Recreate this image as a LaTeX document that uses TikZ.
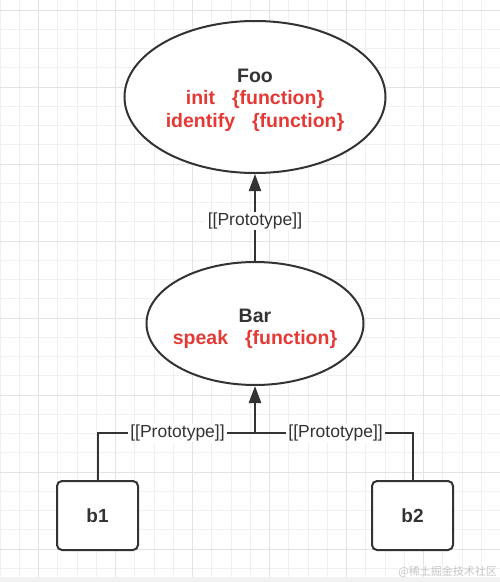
\documentclass[tikz,border=0pt]{standalone}
\usepackage{fontspec}
\setmainfont{Liberation Sans}
\newfontfamily\cjkfont{Noto Sans CJK SC}
\usetikzlibrary{shapes.geometric,arrows.meta}
\definecolor{ink}{HTML}{333333}
\definecolor{fnred}{HTML}{E53935}
\definecolor{gridminor}{HTML}{F0F0F0}
\definecolor{gridmajor}{HTML}{E3E3E3}
\begin{document}
\begin{tikzpicture}[x=1pt,y=-1pt,
  objell/.style={ellipse, draw=ink, line width=2pt, fill=white, inner sep=0pt},
  objtext/.style={align=center, inner sep=0pt, font=\fontsize{19.5}{22.5}\selectfont\bfseries, text=ink},
  instbox/.style={rectangle, rounded corners=5pt, draw=ink, line width=2pt, fill=white,
    minimum width=81pt, minimum height=69pt, font=\fontsize{19}{22}\selectfont\bfseries, text=ink},
  protolbl/.style={fill=white, inner xsep=2.5pt, inner ysep=1pt, font=\fontsize{17.5}{20}\selectfont, text=ink},
  link/.style={draw=ink, line width=2pt},
  arrowlink/.style={link, -{Triangle[length=17pt,width=12pt]}},
  gridline/.style={line width=1pt}
]
\useasboundingbox (0,0) rectangle (500,582);
\fill[white] (0,0) rectangle (500,582);
\foreach \i in {0,...,25} \draw[gridline, gridminor] ({19.25*\i},0) -- ({19.25*\i},582);
\foreach \j in {0,...,29} \draw[gridline, gridminor] (0,{10+19.25*\j}) -- (500,{10+19.25*\j});
\foreach \i in {0,...,5} \draw[gridline, gridmajor] ({38.5+77*\i},0) -- ({38.5+77*\i},582);
\foreach \j in {0,...,7} \draw[gridline, gridmajor] (0,{10+77*\j}) -- (500,{10+77*\j});
\fill[gray!10] (0,577) rectangle (500,582);

\node[objell, minimum width=261pt, minimum height=152pt] (foo) at (255,97) {};
\node[objtext] (footext) at (255,100)
  {Foo\\ \textcolor{fnred}{init\hspace{17pt}\{function\}}\\ \textcolor{fnred}{identify\hspace{17pt}\{function\}}};
\node[objell, minimum width=217pt, minimum height=123pt] (bar) at (255,323.5) {};
\node[objtext] (bartext) at (255,329)
  {Bar\\ \textcolor{fnred}{speak\hspace{17pt}\{function\}}};
\node[instbox] (b1) at (97.5,515.5) {b1};
\node[instbox] (b2) at (412.5,515.5) {b2};
\coordinate (j) at (255,433);

\draw[arrowlink] (bar.north) -- node[protolbl, pos=0.46] (l0) {[[Prototype]]} (foo.south);
\draw[link] (b1.north) |- node[protolbl, pos=0.754] (l1) {[[Prototype]]} (j);
\draw[link] (b2.north) |- node[protolbl, pos=0.744] (l2) {[[Prototype]]} (j);
\draw[arrowlink, line width=2.6pt] (j) -- (bar.south);

\node[font=\cjkfont\fontsize{11}{12}\selectfont, text=gray!45, anchor=east, inner sep=0pt] (wm) at (497,572) {@稀土掘金技术社区};
\end{tikzpicture}
\end{document}
